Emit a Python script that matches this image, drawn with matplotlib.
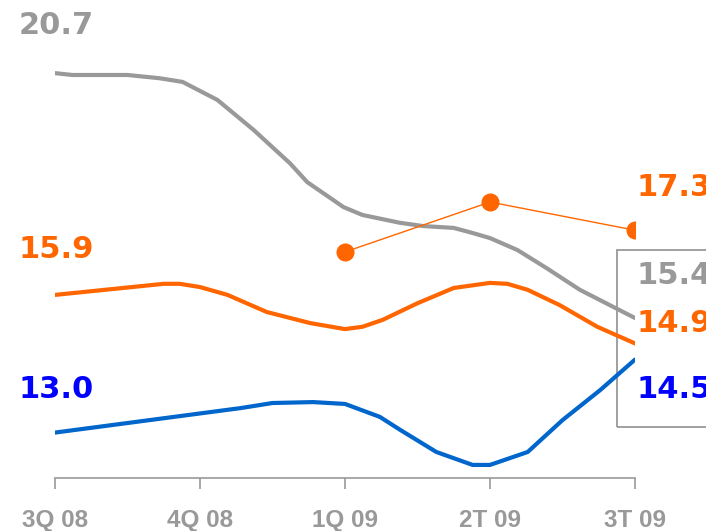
import matplotlib
matplotlib.use("Agg")
import matplotlib.pyplot as plt
from matplotlib.patches import Rectangle

# quarter labels on the x axis
quarters = ["3Q 08", "4Q 08", "1Q 09", "2T 09", "3T 09"]

# smoothed lines (x = position in quarters)
grey_x = [0, 0.12, 0.50, 0.72, 0.88, 1.12, 1.37, 1.62, 1.74, 1.99, 2.12, 2.38,
          2.54, 2.75, 2.88, 3.0, 3.19, 3.39, 3.62, 4.0]
grey_y = [20.7, 20.66, 20.66, 20.59, 20.51, 20.12, 19.47, 18.75, 18.34, 17.80,
          17.63, 17.46, 17.39, 17.35, 17.24, 17.13, 16.87, 16.48, 16.01, 15.4]

orange_x = [0, 0.75, 0.86, 1.0, 1.19, 1.46, 1.76, 2.0, 2.12, 2.26, 2.50, 2.75,
            3.0, 3.12, 3.26, 3.48, 3.74, 4.0]
orange_y = [15.9, 16.14, 16.14, 16.07, 15.90, 15.53, 15.29, 15.16, 15.21, 15.36,
            15.72, 16.05, 16.16, 16.14, 16.01, 15.68, 15.21, 14.85]

blue_x = [0, 1.28, 1.50, 1.78, 2.0, 2.24, 2.38, 2.63, 2.88, 3.0, 3.26, 3.50,
          3.76, 4.0]
blue_y = [12.92, 13.45, 13.56, 13.58, 13.54, 13.26, 12.98, 12.50, 12.22, 12.22,
          12.50, 13.19, 13.84, 14.5]

# orange points series
dots_x = [2, 3, 4]
dots_y = [16.83, 17.91, 17.3]

GREY = "#999999"
ORANGE = "#FF6600"
BLUE_LINE = "#0066CC"
BLUE_TXT = "#0000FF"

W, H = 706, 531
fig = plt.figure(figsize=(W / 100, H / 100), dpi=100)
ax = fig.add_axes([55 / W, (H - 478) / H, 580 / W, 478 / H])


def px(x, y):
    # top-left pixel coords -> figure fraction
    return x / W, 1 - y / H


ax.plot(grey_x, grey_y, color=GREY, lw=3.0, solid_capstyle="round", zorder=3)
ax.plot(orange_x, orange_y, color=ORANGE, lw=3.0, solid_capstyle="round", zorder=3)
ax.plot(blue_x, blue_y, color=BLUE_LINE, lw=3.0, solid_capstyle="round", zorder=3)
ax.plot(dots_x, dots_y, color=ORANGE, lw=1.0, marker="o", ms=12, zorder=4)

ax.set_xlim(0, 4)
ax.set_ylim(11.937, 22.283)
ax.set_xticks(range(len(quarters)))
ax.set_xticklabels(quarters)
ax.set_yticks([])
for s in ["top", "right", "left"]:
    ax.spines[s].set_visible(False)
ax.spines["bottom"].set_color(GREY)
ax.spines["bottom"].set_linewidth(1.2)
ax.tick_params(axis="x", direction="out", length=8, width=1.2, color=GREY,
               pad=14, labelsize=17.5, labelcolor=GREY)
for lab in ax.get_xticklabels():
    lab.set_fontfamily(["Liberation Sans", "DejaVu Sans"])
    lab.set_fontweight("bold")

# value labels
lab_kw = dict(fontsize=22, fontweight="bold", va="center", ha="left",
              family="DejaVu Sans")
fig.text(*px(19, 25), "20.7", color=GREY, **lab_kw)
fig.text(*px(19, 250), "15.9", color=ORANGE, **lab_kw)
fig.text(*px(19, 390), "13.0", color=BLUE_TXT, **lab_kw)
fig.text(*px(637, 188), "17.3", color=ORANGE, **lab_kw)
fig.text(*px(637, 276), "15.4", color=GREY, **lab_kw)
fig.text(*px(637, 323), "14.9", color=ORANGE, **lab_kw)
fig.text(*px(637, 389), "14.5", color=BLUE_TXT, **lab_kw)

# box round the end values
bx, by = px(617, 427)
box = Rectangle((bx, by), 120 / W, 177 / H, transform=fig.transFigure,
                fill=False, edgecolor=GREY, lw=1.3, clip_on=False, zorder=2)
ax.add_patch(box)

fig.savefig("out.png", dpi=100)
